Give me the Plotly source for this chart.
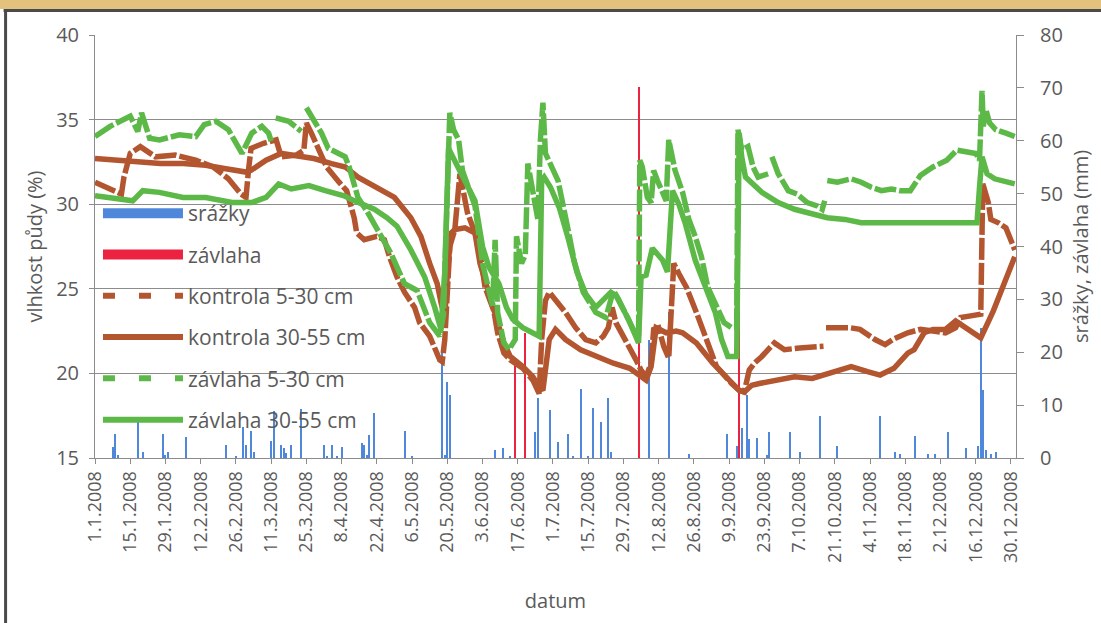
import pandas as pd
import plotly.graph_objects as go

START = pd.Timestamp("2008-01-01")

# ---------------- data (day of year offset from 1.1.2008, value) ----------------
# precipitation (mm)
srazky_day = [7, 8, 9, 17, 19, 27, 28, 29, 36, 52, 56, 59, 60, 62, 63, 70, 71, 74, 75, 76, 78, 82,
              91, 92, 94, 96, 98, 106, 107, 108, 109, 111, 123, 126, 138, 139, 140, 141, 159, 162, 165,
              175, 176, 181, 184, 188, 190, 193, 196, 198, 201, 204, 205, 220, 228, 236,
              251, 255, 257, 259, 260, 263, 267, 268, 276, 280, 288, 295, 312, 318, 320, 326,
              331, 334, 339, 346, 351, 352, 353, 354, 356, 358]
srazky_mm = [2.0, 4.6, 0.6, 7.2, 1.1, 4.6, 0.5, 1.1, 4.0, 2.5, 0.3, 5.8, 2.5, 5.2, 1.1, 3.3, 8.8, 2.5, 1.9, 0.9, 2.5, 9.3,
             2.5, 0.3, 2.5, 0.3, 2.1, 2.8, 2.5, 0.6, 4.4, 8.6, 5.2, 0.3, 20.8, 0.5, 14.3, 12.0, 1.6, 1.9, 0.3,
             4.9, 11.3, 9.0, 3.0, 4.5, 0.3, 13.1, 0.3, 9.5, 6.8, 11.3, 1.1, 22.4, 27.7, 0.8,
             4.5, 2.3, 5.7, 12.0, 3.5, 3.8, 0.6, 4.9, 4.9, 1.1, 7.9, 2.2, 7.9, 1.1, 0.8, 4.1,
             0.8, 0.8, 4.9, 1.9, 2.2, 24.6, 12.8, 1.6, 0.8, 1.1]

# irrigation (mm)
zavlaha_day = [167, 171, 216, 256]
zavlaha_mm = [19.0, 23.6, 70.2, 44.4]

# soil moisture (%) - kontrola 5-30 cm
k530_day = [0, 5, 9, 10.5, 11.5, 14, 18, 24, 32, 40, 47, 53, 58, 60, 61, 62, 67, 72, 74, 80, 83, 84, 86,
            92, 97, 100, 103, 104, 107, 112, 115, 117, 120, 123, 127, 129, 133, 137, 138, 139, 141, 143,
            145, 146.5, 148, 151, 153, 155, 158.5, 160, 162.5, 165, 170, 174, 176.5, 177.5, 179, 180.5,
            183.5, 187, 191, 195, 199, 202, 204, 205.5, 207, 212, 215, 217, 219, 221, 222, 224, 226, 228,
            229, 230, 232, 235, 239, 243, 247, 253, 256, 258, 260, 262, 265, 270, 272, 274, 280, 289.5,
            290, 290.5, 295, 300, 304, 310, 314, 317, 323, 328, 333, 338, 342, 344, 348, 352, 352.8,
            355, 356, 359, 362, 365.5]
k530_val = [31.3, 31.0, 30.7, 30.6, 31.6, 33.0, 33.4, 32.8, 32.9, 32.6, 32.2, 31.5, 30.6, 30.4, 32.0, 33.3,
            33.6, 33.8, 32.8, 32.9, 33.2, 34.8, 34.2,
            32.2, 31.3, 30.8, 29.2, 28.3, 27.9, 28.1, 27.9, 26.9, 25.7, 24.8, 23.9, 23.0, 22.2, 20.8, 20.7,
            22.0, 27.5, 28.5,
            31.8, 30.8, 29.5, 28.3, 27.1, 25.1, 23.7, 22.4, 21.2, 20.8, 20.3, 19.6, 18.8, 22.0, 24.3, 24.8,
            24.3, 23.6, 22.7, 22.0, 21.8, 22.2, 22.7, 23.9, 23.0, 21.7, 20.8, 20.2, 19.8, 20.6, 22.6, 22.7,
            21.6, 20.9,
            23.7, 26.5, 25.9, 25.1, 23.6, 22.0, 20.4, 19.4, 19.0, 18.9, 20.2, 20.6, 21.0, 21.8, 21.6, 21.4,
            21.5, 21.6,
            None, 22.7, 22.7, 22.7, 22.6, 22.0, 21.7, 22.0, 22.4, 22.6, 22.5, 22.4, 22.7, 23.3, 23.4, 23.5,
            31.2,
            30.1, 29.1, 28.9, 28.6, 27.3]

# kontrola 30-55 cm
k3055_day = [0, 9, 18, 26, 35, 44, 52, 60, 62, 68, 74, 81, 87, 94, 99.5, 104.5, 112, 119, 125.5, 129.5,
             133, 136, 137.5, 139, 140, 141.5, 143, 147, 151, 153, 157, 160, 162.5, 165, 170, 174, 176.5,
             178, 180.5, 183, 187, 193, 199, 206, 212.5, 217, 219, 221, 223, 227, 231, 233.5, 239, 245.5,
             252, 256, 258, 261, 264, 270, 278, 285, 291, 296.5, 300.5, 307, 312, 317.5, 323, 325.5,
             329.5, 333, 338, 342, 352, 357, 362, 365.5]
k3055_val = [32.7, 32.6, 32.5, 32.4, 32.4, 32.3, 32.1, 31.9, 32.0, 32.6, 33.0, 32.8, 32.7, 32.4, 32.2, 31.6,
             31.0, 30.4, 29.2, 28.1,
             26.5, 25.3, 24.2, 23.3, 25.9, 28.3, 28.5, 28.6, 28.3, 26.5, 24.5, 23.0, 21.8, 21.0, 20.4, 19.8,
             19.2,
             19.0, 22.0, 22.6, 22.0, 21.4, 21.0, 20.6, 20.3, 19.8, 19.6, 20.4, 22.7, 22.4, 22.5, 22.4, 21.8,
             20.6,
             19.6, 19.0, 18.9, 19.3, 19.4, 19.6, 19.8, 19.7, 20.0, 20.2, 20.4, 20.1, 19.9, 20.3, 21.2, 21.4,
             22.4, 22.6, 22.6, 23.1, 22.1, 23.7, 25.7, 26.9]

# zavlaha 5-30 cm
z530_day = [0, 6, 14, 17, 18.5, 21.7, 25.6, 33.5, 40, 43.4, 48, 53, 58.4, 62.3, 66.3, 69, 70.3, 71, 71.8,
            77, 82, 83, 84, 90, 92.7, 99.4, 101, 104.5, 108, 112.4, 117.6, 123, 128, 133, 137, 138.5, 140,
            141, 142.5, 144.5, 146, 148.5, 151, 154, 156.5, 158, 159, 160, 162.5, 164.5, 167, 167.5, 169.5,
            171, 172, 173.5, 176, 177, 178, 179, 181, 184, 188, 190.5, 194, 199, 203, 206, 208, 212,
            214.5, 216, 216.5, 217.5, 219.5, 221, 222, 223.5, 225.5, 227, 228, 229.5, 230.5, 233.5, 236,
            238.5, 241, 243.5, 247.5, 250, 253, 255, 255.5, 257, 259.5, 261.5, 263.5, 267.5, 268, 269,
            271.5, 275.5, 279, 283, 287, 289, 290, 290.5, 291, 295, 300.5, 304.5, 308.5, 312.5, 316.5,
            320, 324, 328, 333, 338.5, 342.5, 346, 350, 351.5, 352.5, 353, 354, 355.5, 358, 362, 365.5]
z530_val = [34.0, 34.6, 35.2, 34.3, 35.4, 33.9, 33.8, 34.1, 34.0, 34.7, 34.9, 34.4, 33.0, 34.2, 34.6, 34.2,
            33.6, None, 35.1,
            34.9, 34.3, None, 35.7, 34.2, 33.3, 32.8, 32.2, 30.4, 29.6, 28.5, 27.1, 25.3, 24.9, 23.0, 22.2,
            23.5, 30.5,
            35.4, 34.4, 33.8, 32.0, 30.9, 29.9, 26.5, 25.1, 24.0, 27.9, 23.6, 21.8, 21.4, 22.0, 28.1, 26.5,
            27.0, 32.4, 31.0, 29.1, 33.8, 36.0, 33.0, 32.4, 31.4, 28.5, 26.6, 24.8, 23.6, 23.3, 24.9, 24.4,
            23.2,
            22.4, 22.2, 32.6, 32.2, 30.4, 30.1, 32.0, 31.4, 30.7, 30.2, 33.8, 32.6, 32.0, 30.7, 29.1,
            28.1, 26.9, 25.1, 23.7, 23.0, 22.7, 22.7, 34.4, 33.2, 33.4, 32.2, 31.6, 31.8, None, 32.8,
            31.8, 30.8, 30.6, 30.1, 29.9, 29.7, 30.2, None, 31.4, 31.3, 31.5, 31.3, 31.0, 30.8, 30.9,
            30.8, 30.8, 31.7, 32.2, 32.6, 33.2, 33.1, 33.0, 32.6, 36.7, 34.6, 35.6, 34.8, 34.4, 34.2, 34.0]

# zavlaha 30-55 cm
z3055_day = [0, 6, 15, 19, 25.6, 35, 44, 54.5, 62.3, 68, 73, 78, 85, 91.5, 99, 103, 111, 116, 120, 125.5,
             131, 135, 137.5, 139, 140.5, 143.5, 146, 149, 151, 154, 156.5, 160.5, 163.5, 166, 170, 175.5,
             176.5, 177.5, 178.5, 181, 184.5, 188, 191.5, 195, 199, 205, 207, 212, 215, 216, 217, 219,
             221.5, 225.5, 227.5, 229.5, 232, 234.5, 238.5, 242.5, 246.5, 249, 251.5, 255, 256, 257,
             258.5, 265, 271.5, 278, 285, 291, 298, 304.5, 311, 350.5, 351.5, 352.5, 354.5, 357.5, 365.5]
z3055_val = [30.5, 30.4, 30.2, 30.8, 30.7, 30.4, 30.4, 30.1, 30.1, 30.4, 31.2, 30.9, 31.1, 30.8, 30.5, 30.2,
             29.7, 29.2, 28.7, 27.3,
             25.7, 23.9, 22.6, 26.0, 33.3, 32.4, 31.6, 30.8, 30.2, 27.5, 26.3, 25.3, 23.9, 23.2, 22.7, 22.2,
             22.2, 31.4, 31.6, 31.0, 29.8, 28.0, 26.0, 24.7, 23.9, 24.8, 24.6, 23.2, 22.0, 21.8, 25.7, 25.8,
             27.4, 26.7, 26.0, 30.8, 30.0, 28.9, 26.7, 25.1, 23.6, 22.0, 21.0, 21.0, 34.2, 32.8,
             31.6, 30.7, 30.1, 29.7, 29.4, 29.2, 29.1, 28.9, 28.9, 28.9, 31.0, 32.8, 31.8, 31.5, 31.2]

# ---------------- styling ----------------
BLUE = "#4F87DA"
RED = "#EC2340"
BROWN = "#B35630"
GREEN = "#5DB947"
GREY_TXT = "#5a5a5a"
AX = "#8c8c8c"


def dates(days):
    return [START + pd.Timedelta(days=float(d)) for d in days]


DAY_MS = 86400000
fig = go.Figure()

# bars on primary y (right side), drawn underneath the lines
fig.add_trace(go.Bar(x=dates(srazky_day), y=srazky_mm, width=[0.8 * DAY_MS] * len(srazky_day),
                     marker=dict(color=BLUE, line=dict(width=0)), name="srážky", showlegend=False,
                     yaxis="y"))
fig.add_trace(go.Bar(x=dates(zavlaha_day), y=zavlaha_mm, width=[0.8 * DAY_MS] * len(zavlaha_day),
                     marker=dict(color=RED, line=dict(width=0)), name="závlaha", showlegend=False,
                     yaxis="y"))

line_series = [
    ("kontrola 5-30 cm", k530_day, k530_val, BROWN, "22px,3px"),
    ("kontrola 30-55 cm", k3055_day, k3055_val, BROWN, "solid"),
    ("závlaha 5-30 cm", z530_day, z530_val, GREEN, "22px,3px"),
    ("závlaha 30-55 cm", z3055_day, z3055_val, GREEN, "solid"),
]
for name, d, v, col, dash in line_series:
    fig.add_trace(go.Scatter(x=dates(d), y=v, mode="lines", name=name, showlegend=False,
                             line=dict(color=col, width=5.5, dash=dash), connectgaps=False,
                             yaxis="y2"))

# legend entries
legend_items = [
    ("srážky", BLUE, 14, "solid"),
    ("závlaha", RED, 14, "solid"),
    ("kontrola 5-30 cm", BROWN, 6, "12px,24px"),
    ("kontrola 30-55 cm", BROWN, 6, "solid"),
    ("závlaha 5-30 cm", GREEN, 6, "12px,24px"),
    ("závlaha 30-55 cm", GREEN, 6, "solid"),
]
for name, col, w, dash in legend_items:
    fig.add_trace(go.Scatter(x=[None], y=[None], mode="lines", name=name, legendgroup=name,
                             line=dict(color=col, width=w, dash=dash), yaxis="y2"))


# plot area sits at image px 95..1022 (x) and 35..458 (y)
def px_x(p):
    return (p - 95) / 927.0


def px_y(p):
    return (458 - p) / 423.0


shapes = [
    dict(type="rect", xref="paper", yref="paper", x0=px_x(-5), x1=px_x(1110), y0=px_y(9), y1=px_y(-5),
         fillcolor="#E2C27C", line=dict(width=0), layer="above"),
    dict(type="line", xref="paper", yref="paper", x0=px_x(3), x1=px_x(1110), y0=px_y(10.5), y1=px_y(10.5),
         line=dict(color="#4a4a4a", width=3), layer="above"),
    dict(type="line", xref="paper", yref="paper", x0=px_x(5), x1=px_x(5), y0=px_y(9), y1=px_y(630),
         line=dict(color="#4a4a4a", width=3), layer="above"),
]

fig.update_layout(
    width=1101, height=623, autosize=False,
    margin=dict(l=95, r=79, t=35, b=165),
    paper_bgcolor="white", plot_bgcolor="white",
    font=dict(family="Open Sans", size=20, color=GREY_TXT),
    bargap=0,
    shapes=shapes,
    legend=dict(x=px_x(98), y=px_y(193), xanchor="left", yanchor="top", bgcolor="rgba(0,0,0,0)",
                font=dict(size=21, color=GREY_TXT), itemwidth=80, traceorder="grouped",
                tracegroupgap=11, itemclick=False),
    xaxis=dict(type="date", range=[START, START + pd.Timedelta(days=366)],
               tick0="2008-01-01", dtick=14 * DAY_MS, tickformat="%-d.%-m.%Y", tickangle=-90,
               ticks="outside", ticklen=5, tickcolor=AX, showline=True, linecolor=AX, linewidth=1,
               showgrid=False, zeroline=False, tickfont=dict(size=18, color=GREY_TXT),
               title=dict(text="datum", standoff=32, font=dict(size=20, color=GREY_TXT))),
    yaxis=dict(range=[0, 80], dtick=10, side="right", ticks="outside", ticklen=7, tickcolor=AX,
               showline=True, linecolor=AX, showgrid=False, zeroline=False,
               tickfont=dict(size=20, color=GREY_TXT), ticklabelstandoff=12,
               title=dict(text="srážky, závlaha (mm)", standoff=12, font=dict(size=20, color=GREY_TXT))),
    yaxis2=dict(range=[15, 40], dtick=5, side="left", overlaying="y", ticks="outside", ticklen=5,
                tickcolor=AX, showline=True, linecolor=AX, showgrid=True, gridcolor=AX, gridwidth=1,
                zeroline=False, tickfont=dict(size=20, color=GREY_TXT), ticklabelstandoff=6,
                title=dict(text="vlhkost půdy (%)", standoff=8, font=dict(size=20, color=GREY_TXT))),
)

# remove the browser's default 8px body margin (and any scrollbars) so the 1101x623 figure
# fills the window exactly
fig.write_html(
    "out.html",
    config={"displayModeBar": False, "responsive": False},
    post_script=("document.body.style.margin='0px';"
                 "document.documentElement.style.overflow='hidden';"
                 "document.body.style.overflow='hidden';"),
)
